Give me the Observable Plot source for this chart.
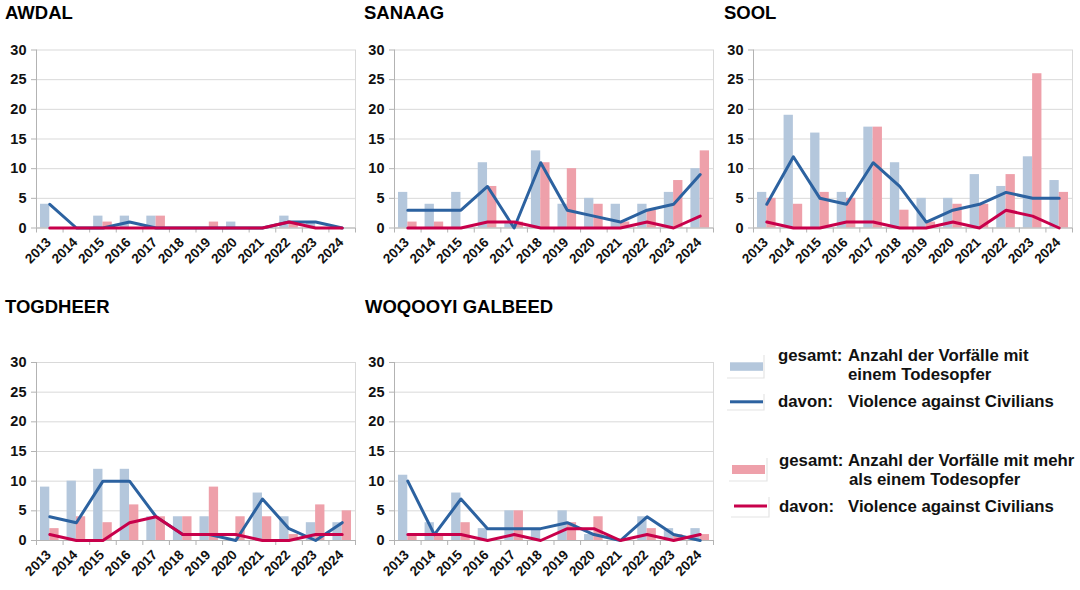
<!DOCTYPE html>
<html>
<head>
<meta charset="utf-8">
<script src="https://cdn.jsdelivr.net/npm/d3@7"></script>
<script src="https://cdn.jsdelivr.net/npm/@observablehq/plot@0.6"></script>
<style>
  body { margin: 0; background: #fff; font-family: "Liberation Sans", Arial, sans-serif; }
  #root { position: relative; width: 1080px; height: 590px; overflow: hidden; background: #fff; }
  .title { position: absolute; font-weight: bold; font-size: 18.5px; line-height: 1; color: #000; white-space: nowrap; }
  .panel { position: absolute; }
  .leg { position: absolute; font-weight: bold; font-size: 16.8px; line-height: 1; color: #111; white-space: nowrap; }
  svg.legend { position: absolute; left: 0; top: 0; }
</style>
</head>
<body>
<div id="root"></div>
<script>
// Years on the x axis
const years = [2013, 2014, 2015, 2016, 2017, 2018, 2019, 2020, 2021, 2022, 2023, 2024];
const yTicks = [0, 5, 10, 15, 20, 25, 30];

// Incidents with one fatality (total) and of those: violence against civilians
// Incidents with more than one fatality (total) and of those: violence against civilians
const awdalOne      = [4, 0, 2, 2, 2, 0, 0, 1, 0, 2, 1, 0];
const awdalOneVac   = [4, 0, 0, 1, 0, 0, 0, 0, 0, 1, 1, 0];
const awdalMulti    = [0, 0, 1, 0, 2, 0, 1, 0, 0, 1, 0, 0];
const awdalMultiVac = [0, 0, 0, 0, 0, 0, 0, 0, 0, 1, 0, 0];

const sanaagOne      = [6, 4, 6, 11, 1, 13, 4, 5, 4, 4, 6, 10];
const sanaagOneVac   = [3, 3, 3, 7, 0, 11, 3, 2, 1, 3, 4, 9];
const sanaagMulti    = [1, 1, 0, 7, 1, 11, 10, 4, 1, 3, 8, 13];
const sanaagMultiVac = [0, 0, 0, 1, 1, 0, 0, 0, 0, 1, 0, 2];

const soolOne      = [6, 19, 16, 6, 17, 11, 5, 5, 9, 7, 12, 8];
const soolOneVac   = [4, 12, 5, 4, 11, 7, 1, 3, 4, 6, 5, 5];
const soolMulti    = [5, 4, 6, 5, 17, 3, 1, 4, 4, 9, 26, 6];
const soolMultiVac = [1, 0, 0, 1, 1, 0, 0, 1, 0, 3, 2, 0];

const togdheerOne      = [9, 10, 12, 12, 4, 4, 4, 0, 8, 4, 3, 3];
const togdheerOneVac   = [4, 3, 10, 10, 4, 1, 1, 0, 7, 2, 0, 3];
const togdheerMulti    = [2, 4, 3, 6, 4, 4, 9, 4, 4, 1, 6, 5];
const togdheerMultiVac = [1, 0, 0, 3, 4, 1, 1, 1, 0, 0, 1, 1];

const woqooyiOne      = [11, 3, 8, 2, 5, 2, 5, 1, 0, 4, 2, 2];
const woqooyiOneVac   = [10, 1, 7, 2, 2, 2, 3, 1, 0, 4, 1, 0];
const woqooyiMulti    = [1, 1, 3, 0, 5, 0, 3, 4, 0, 2, 1, 1];
const woqooyiMultiVac = [1, 1, 1, 0, 1, 0, 2, 2, 0, 1, 0, 1];

const legendOneTotal   = ["gesamt:", "Anzahl der Vorfälle mit", "einem Todesopfer"];
const legendMultiTotal = ["gesamt:", "Anzahl der Vorfälle mit mehr", "als einem Todesopfer"];
const legendVac        = ["davon:", "Violence against Civilians"];

// Colours
const blueBar = "#b4c7dc";
const pinkBar = "#eea0aa";
const blueLine = "#2c62a0";
const redLine = "#c8004b";
const axisGray = "#b3b3b3";
const gridGray = "#d9d9d9";

const root = document.getElementById("root");
const FONT = '"Liberation Sans", Arial, sans-serif';
const edges = [...years.map(y => y - 0.5), years[years.length - 1] + 0.5];

function panel(name, one, oneVac, multi, multiVac, left, top, titleLeft, titleTop, marginTop) {
  const rows = years.map((year, i) => ({
    year, one: one[i], oneVac: oneVac[i], multi: multi[i], multiVac: multiVac[i]
  }));
  const t = document.createElement("div");
  t.className = "title";
  t.style.left = titleLeft + "px";
  t.style.top = titleTop + "px";
  t.textContent = name;
  root.appendChild(t);

  const height = 250;
  const chart = Plot.plot({
    width: 360,
    height,
    marginLeft: 35,
    marginRight: 6,
    marginTop,
    marginBottom: height - marginTop - 178,
    x: {domain: [edges[0], edges[edges.length - 1]]},
    y: {domain: [0, 30]},
    style: {fontFamily: FONT, fontSize: "14px", background: "transparent", overflow: "visible", color: "#111"},
    marks: [
      Plot.gridY(yTicks, {stroke: gridGray, strokeOpacity: 1}),
      Plot.rectY(rows, {x1: d => d.year - 0.35, x2: d => d.year, y: "one", fill: blueBar}),
      Plot.rectY(rows, {x1: d => d.year, x2: d => d.year + 0.35, y: "multi", fill: pinkBar}),
      Plot.ruleX([edges[0]], {stroke: axisGray}),
      Plot.ruleX([edges[edges.length - 1]], {stroke: gridGray}),
      Plot.ruleY([0], {stroke: axisGray}),
      // y axis: tick marks and bold labels
      Plot.axisY({ticks: yTicks, tickSize: 5, tickFormat: () => "", stroke: axisGray, label: null}),
      Plot.text(yTicks, {y: d => d, frameAnchor: "left", textAnchor: "end", dx: -10,
                         fill: "#111", fontSize: 14.5, fontWeight: "bold"}),
      // x axis: tick marks between years and rotated year labels
      Plot.axisX({ticks: edges, tickSize: 5, tickFormat: () => "", stroke: axisGray, label: null}),
      Plot.text(years, {x: d => d, frameAnchor: "bottom", text: d => String(d), rotate: -45,
                        textAnchor: "end", lineAnchor: "middle", dx: -1, dy: 12,
                        fill: "#111", fontSize: 13.5, fontWeight: "bold"}),
      Plot.line(rows, {x: "year", y: "oneVac", stroke: blueLine, strokeWidth: 3}),
      Plot.line(rows, {x: "year", y: "multiVac", stroke: redLine, strokeWidth: 3})
    ]
  });
  const wrap = document.createElement("div");
  wrap.className = "panel";
  wrap.style.left = left + "px";
  wrap.style.top = top + "px";
  wrap.appendChild(chart);
  root.appendChild(wrap);
}

panel("AWDAL", awdalOne, awdalOneVac, awdalMulti, awdalMultiVac, 1, 30, 5, 4.3, 19.5);
panel("SANAAG", sanaagOne, sanaagOneVac, sanaagMulti, sanaagMultiVac, 359, 30, 364, 4.3, 19.5);
panel("SOOL", soolOne, soolOneVac, soolMulti, soolMultiVac, 718, 30, 724, 4.3, 19.5);
panel("TOGDHEER", togdheerOne, togdheerOneVac, togdheerMulti, togdheerMultiVac, 1, 340, 5, 298.3, 22);
panel("WOQOOYI GALBEED", woqooyiOne, woqooyiOneVac, woqooyiMulti, woqooyiMultiVac, 359, 340, 365, 298.3, 22);

// Legend
const svg = d3.select(root).append("svg").attr("class", "legend").attr("width", 1080).attr("height", 590);
function frame(x1, x2, y1, y2) {
  svg.append("path").attr("d", `M${x2},${y1}V${y2}H${x1}`).attr("fill", "none").attr("stroke", "#e4e4e4").attr("stroke-width", 1.2);
}
frame(727, 764, 355, 378);
svg.append("rect").attr("x", 730).attr("y", 362.3).attr("width", 33).attr("height", 8.5).attr("fill", blueBar);
frame(727, 764, 394, 410);
svg.append("rect").attr("x", 730).attr("y", 400.3).attr("width", 33).attr("height", 3).attr("fill", blueLine);
frame(729, 767, 458, 481);
svg.append("rect").attr("x", 732).attr("y", 465).attr("width", 33).attr("height", 9).attr("fill", pinkBar);
frame(731, 769, 497, 517);
svg.append("rect").attr("x", 734).attr("y", 504.5).attr("width", 33).attr("height", 3).attr("fill", redLine);

function legText(text, left, baseline) {
  const d = document.createElement("div");
  d.className = "leg";
  d.style.left = left + "px";
  d.style.top = (baseline - 14.2) + "px";
  d.textContent = text;
  root.appendChild(d);
}
legText(legendOneTotal[0], 778, 361.7);
legText(legendOneTotal[1], 848, 361.7);
legText(legendOneTotal[2], 848, 380.7);
legText(legendVac[0], 778, 408.3);
legText(legendVac[1], 848, 408.3);
legText(legendMultiTotal[0], 779, 466.7);
legText(legendMultiTotal[1], 848, 466.7);
legText(legendMultiTotal[2], 849, 486);
legText(legendVac[0], 779, 513.3);
legText(legendVac[1], 848, 513.3);
</script>
</body>
</html>
